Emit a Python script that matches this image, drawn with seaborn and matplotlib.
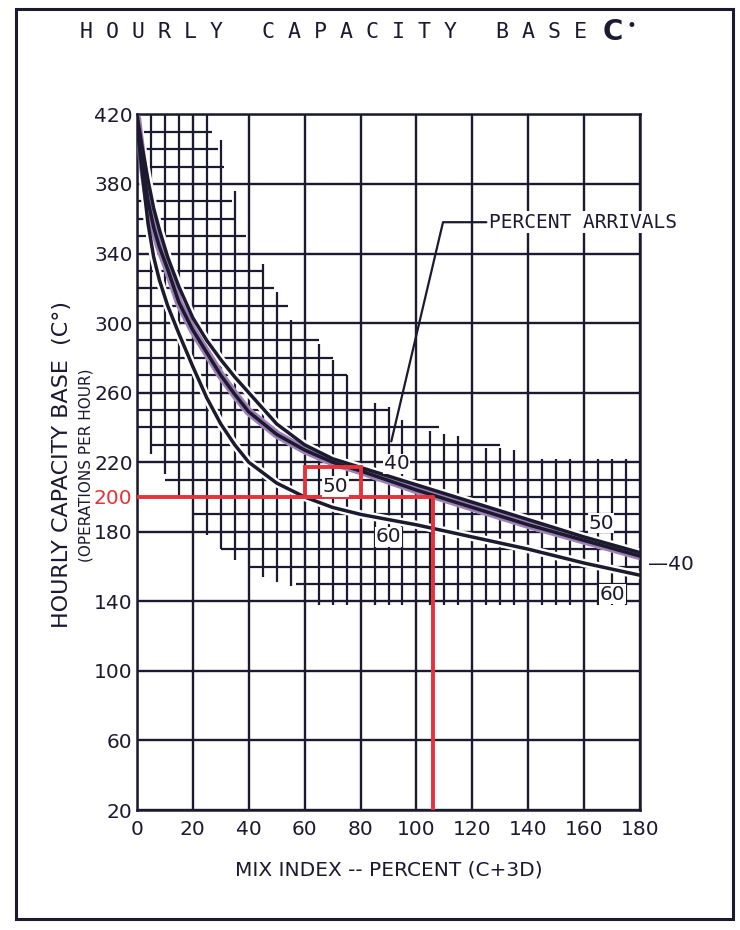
import numpy as np
import pandas as pd
import matplotlib
matplotlib.use("Agg")
import matplotlib.pyplot as plt
from matplotlib.patches import Rectangle
import seaborn as sns

# ---------------- data ----------------
mix_index = [0, 2, 4, 6, 8, 11, 15, 20, 25, 30, 35, 40, 50, 60, 70, 80, 100, 120, 140, 160, 180]
cap_40 = [420, 400, 382, 366, 354, 338, 321, 303, 290, 279, 269, 260, 242, 230, 222, 217, 207, 197, 187, 177, 168]
cap_50 = [418, 392, 370, 355, 344, 331, 312, 296, 283, 270, 259, 249, 236, 227, 220, 215, 204, 194, 184, 175, 166]
cap_60 = [415, 385, 357, 338, 325, 310, 294, 275, 257, 242, 230, 220, 208, 200, 194, 190, 184, 177, 170, 162, 155]

x_ticks = [0, 20, 40, 60, 80, 100, 120, 140, 160, 180]
y_ticks = [20, 60, 100, 140, 180, 220, 260, 300, 340, 380, 420]

# fine (hatched) grid: horizontal lines (y, x start, x end)
fine_h_y = [150, 160, 170, 190, 200, 210, 230, 240, 250, 270, 280, 290, 310, 320, 330, 350, 360, 370, 390, 400, 410]
fine_h_x0 = [57, 40, 30, 20, 15, 10, 5, 0, 0, 0, 0, 0, 0, 0, 0, 0, 0, 0, 0, 0, 0]
fine_h_x1 = [180, 180, 180, 180, 180, 180, 130, 108, 90, 75, 70, 65, 54, 49, 45, 39, 35, 34, 31, 29, 27]
# fine grid: vertical lines (x, y bottom, y top)
fine_v_x = [5, 10, 15, 25, 30, 35, 45, 50, 55, 65, 70, 75, 85, 90, 95, 105, 110, 115,
            125, 130, 135, 145, 150, 155, 165, 170, 175]
fine_v_y0 = [225, 213, 200, 178, 170, 164, 154, 151, 149, 138, 138, 138, 138, 138, 138, 138, 138, 138,
             138, 138, 138, 138, 138, 138, 138, 138, 138]
fine_v_y1 = [420, 420, 420, 420, 405, 376, 334, 318, 302, 288, 279, 270, 254, 252, 244, 238, 236, 235,
             228, 228, 227, 222, 222, 222, 222, 222, 222]

example_mix = 106
example_cap = 200
box_x = [60, 80]
box_y = [200, 217]

# ---------------- figure ----------------
sns.set_theme(style="white")
plt.rcParams["font.family"] = ["DejaVu Sans"]

fig = plt.figure(figsize=(7.4, 9.3), dpi=100)
ax = fig.add_axes([0.185, 0.129, 0.68, 0.748])

ink = "#1b1a2e"
red = "#e5323b"
tick_fs = 14.5

ax.set_xlim(0, 180)
ax.set_ylim(20, 420)
ax.set_xticks(x_ticks)
ax.set_yticks(y_ticks)
ax.set_yticks([example_cap], minor=True)
ax.set_yticklabels([str(v) for v in [example_cap]], minor=True, color=red)
ax.grid(True, which="major", color=ink, lw=1.7)
ax.tick_params(which="both", length=0, labelsize=tick_fs, colors=ink)
ax.tick_params(axis="x", pad=7)
ax.tick_params(axis="y", pad=3)
for lab in ax.get_yticklabels(minor=True):
    lab.set_color(red)
for s in ax.spines.values():
    s.set_color(ink)
    s.set_linewidth(1.8)

# fine hatched grid
ax.hlines(fine_h_y, fine_h_x0, fine_h_x1, color=ink, lw=1.6, zorder=1)
ax.vlines(fine_v_x, fine_v_y0, fine_v_y1, color=ink, lw=1.6, zorder=1)

# curves
df = pd.DataFrame({
    "mix": mix_index * 3,
    "cap": cap_40 + cap_50 + cap_60,
    "arr": ["40"] * len(mix_index) + ["50"] * len(mix_index) + ["60"] * len(mix_index),
})
for arr in ["40", "50", "60"]:
    sub = df[df["arr"] == arr]
    ax.plot(sub["mix"], sub["cap"], color="white", lw=6, zorder=2, solid_capstyle="round")
sns.lineplot(data=df[df["arr"] == "50"], x="mix", y="cap", color="#7b559e", lw=6,
             alpha=0.75, ax=ax, zorder=3, legend=False)
sns.lineplot(data=df, x="mix", y="cap", hue="arr", palette={"40": ink, "50": ink, "60": ink},
             lw=2.5, ax=ax, zorder=4, legend=False)

# red example lines
ax.plot([0, example_mix], [example_cap, example_cap], color=red, lw=2.8, zorder=5)
ax.plot([example_mix, example_mix], [20, example_cap], color=red, lw=2.8, zorder=5)
ax.add_patch(Rectangle((box_x[0], box_y[0]), box_x[1] - box_x[0], box_y[1] - box_y[0],
                       fill=False, edgecolor=red, lw=2.8, zorder=5))

lab_fs = tick_fs
lab_kw = dict(fontsize=lab_fs, color=ink, ha="center", va="center", zorder=6)
bb = dict(facecolor="white", edgecolor="none", pad=0.5)
ax.text(93, 219, "40", bbox=bb, **lab_kw)
ax.text(71, 206, "50", bbox=bb, **lab_kw)
ax.text(90, 177, "60", bbox=bb, **lab_kw)
ax.text(166, 185, "50", bbox=bb, **lab_kw)
ax.text(170, 144, "60", bbox=bb, **lab_kw)
ax.text(183, 161, "\u201440", fontsize=lab_fs, color=ink, ha="left", va="center", clip_on=False)

# percent arrivals leader
ax.plot([91, 109.5, 125], [232, 358, 358], color=ink, lw=1.6, zorder=6, clip_on=False)
ax.text(126, 358, "PERCENT ARRIVALS", fontsize=14, color=ink, ha="left", va="center",
        family="DejaVu Sans Mono", clip_on=False, zorder=6,
        bbox=dict(facecolor="white", edgecolor="none", pad=1))

ax.set_xlabel("MIX INDEX -- PERCENT (C+3D)", fontsize=tick_fs, color=ink, labelpad=16)
ax.set_ylabel("")
fig.text(0.084, 0.5, "HOURLY CAPACITY BASE  (C\u00b0)", rotation=90,
         fontsize=16, color=ink, ha="center", va="center")
fig.text(0.116, 0.5, "(OPERATIONS PER HOUR)", rotation=90,
         fontsize=11, color=ink, ha="center", va="center")

# title
fig.text(0.108, 0.966, "H O U R L Y   C A P A C I T Y   B A S E", fontsize=15.5,
         family="DejaVu Sans Mono", color=ink, ha="left", va="center")
fig.text(0.815, 0.966, "C", fontsize=20, fontweight="bold", family="DejaVu Sans",
         color=ink, ha="left", va="center")
fig.text(0.847, 0.972, "\u2022", fontsize=12, family="DejaVu Sans",
         color=ink, ha="left", va="center")

# outer border
fig.add_artist(Rectangle((0.022, 0.012), 0.968, 0.978, transform=fig.transFigure,
                         fill=False, edgecolor=ink, lw=2.2))

fig.savefig("out.png", dpi=100)
